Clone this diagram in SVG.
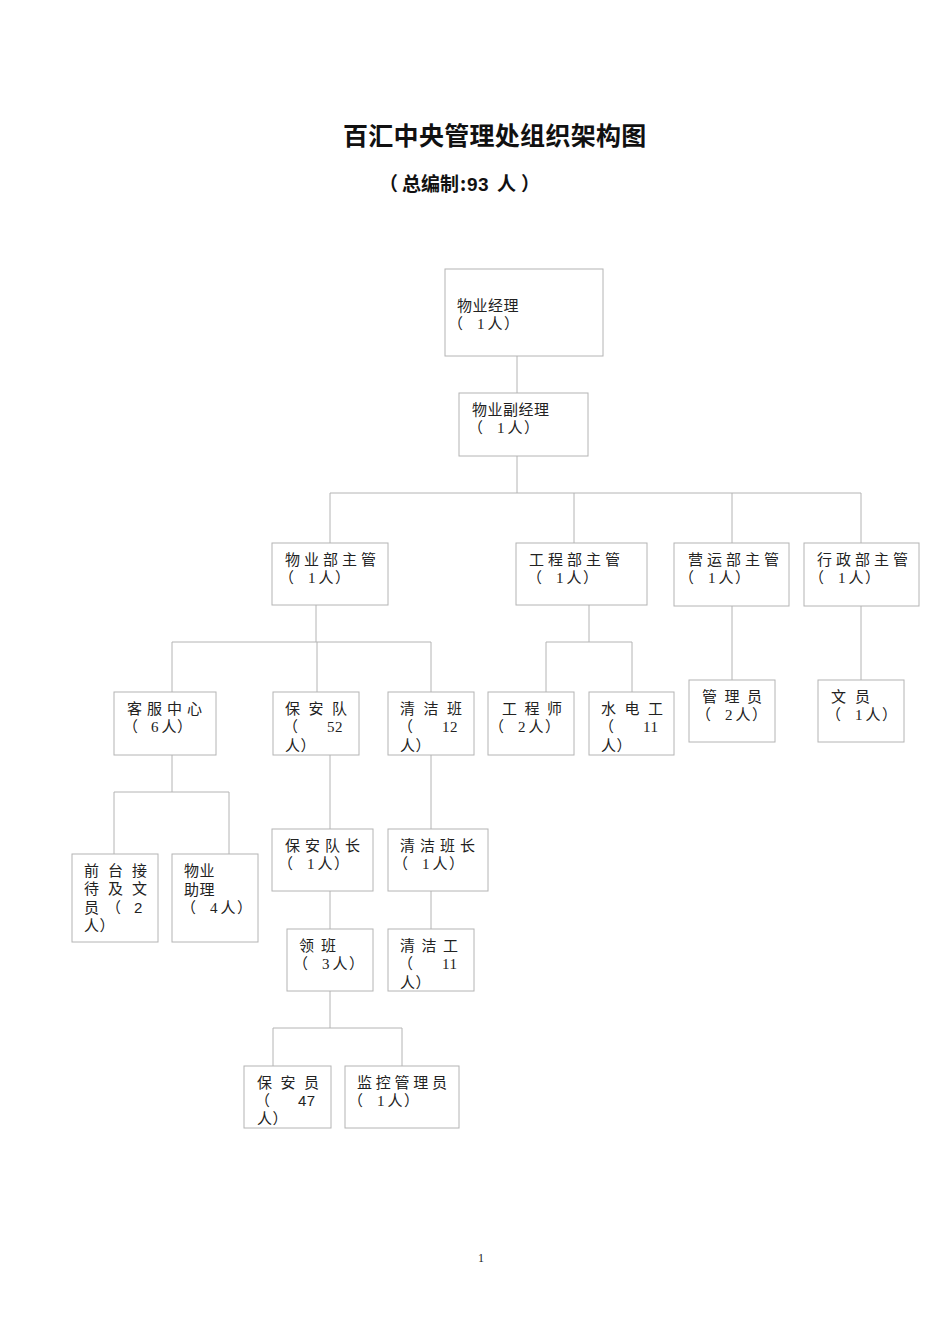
<svg xmlns="http://www.w3.org/2000/svg" width="950" height="1344" viewBox="0 0 950 1344">
<style>
.box{fill:#fff;stroke:#b4b4b4;stroke-width:1}
.ln{fill:none;stroke:#b4b4b4;stroke-width:1}
.t{font-family:"Noto Sans CJK SC","Liberation Serif",sans-serif;font-size:15px;fill:#222;letter-spacing:0.5px}
.d{font-family:"Liberation Serif",serif}
.title{font-family:"Noto Sans CJK SC",sans-serif;font-size:25px;font-weight:bold;fill:#111}
.sub{font-family:"Noto Sans CJK SC","Liberation Sans",sans-serif;font-size:19px;font-weight:bold;fill:#111}
</style>
<rect width="950" height="1344" fill="#fff"/>
<text class="title" x="343" y="145" style="letter-spacing:0.3px">百汇中央管理处组织架构图</text>
<text class="sub" x="379 402 421 440 460 467 478 489 497 521" y="191">（总编制:<tspan style="font-family:'Liberation Sans',sans-serif">93</tspan> 人）</text>

<g id="connectors">
<path class="ln" d="M517,356V393 M517,456V493 M330,493H861 M330,493V543 M574,493V543 M732,493V543 M861,493V543"/>
<path class="ln" d="M316,605V642 M172,642H431 M172,642V692 M317,642V692 M431,642V692"/>
<path class="ln" d="M589,605V642 M546,642H632 M546,642V692 M632,642V692"/>
<path class="ln" d="M732,606V680 M861,606V680"/>
<path class="ln" d="M172,755V792 M114,792H229 M114,792V854 M229,792V854"/>
<path class="ln" d="M330,755V829 M330,891V929 M330,991V1028 M273,1028H402 M273,1028V1066 M402,1028V1066"/>
<path class="ln" d="M431,755V829 M431,891V929"/>
</g>

<g id="n1"><rect class="box" x="445" y="269" width="158" height="87"/>
<text class="t" x="457" y="311">物业经理</text><text class="t" x="448 477 487.5 504" y="329">（<tspan class="d">1</tspan>人）</text></g>
<g id="n2"><rect class="box" x="459" y="393" width="129" height="63"/>
<text class="t" x="472" y="415">物业副经理</text><text class="t" x="468 497 507.5 524" y="433">（<tspan class="d">1</tspan>人）</text></g>

<g id="n3"><rect class="box" x="272" y="543" width="116" height="62"/>
<text class="t" x="285" y="565" style="letter-spacing:4px">物业部主管</text><text class="t" x="279 308 318.5 335" y="583">（<tspan class="d">1</tspan>人）</text></g>
<g id="n4"><rect class="box" x="516" y="543" width="131" height="62"/>
<text class="t" x="529" y="565" style="letter-spacing:4px">工程部主管</text><text class="t" x="527 556 566.5 583" y="583">（<tspan class="d">1</tspan>人）</text></g>
<g id="n5"><rect class="box" x="674" y="543" width="115" height="63"/>
<text class="t" x="688" y="565" style="letter-spacing:4px">营运部主管</text><text class="t" x="679 708 718.5 735" y="583">（<tspan class="d">1</tspan>人）</text></g>
<g id="n6"><rect class="box" x="804" y="543" width="115" height="63"/>
<text class="t" x="817" y="565" style="letter-spacing:4px">行政部主管</text><text class="t" x="809 838 848.5 865" y="583">（<tspan class="d">1</tspan>人）</text></g>

<g id="n7"><rect class="box" x="114" y="692" width="102" height="63"/>
<text class="t" x="127" y="714" style="letter-spacing:5px">客服中心</text><text class="t" x="123 151 161.5 177" y="732">（<tspan class="d">6</tspan>人）</text></g>
<g id="n8"><rect class="box" x="273" y="692" width="86" height="63"/>
<text class="t" x="285" y="714" style="letter-spacing:8.5px">保安队</text>
<text class="t" x="283" y="732">（</text><text class="t d" x="327" y="732">52</text>
<text class="t" x="285" y="751">人）</text></g>
<g id="n9"><rect class="box" x="388" y="692" width="86" height="63"/>
<text class="t" x="400" y="714" style="letter-spacing:8.5px">清洁班</text>
<text class="t" x="398" y="732">（</text><text class="t d" x="442" y="732">12</text>
<text class="t" x="400" y="751">人）</text></g>
<g id="n10"><rect class="box" x="488" y="692" width="86" height="63"/>
<text class="t" x="502" y="714" style="letter-spacing:7.5px">工程师</text><text class="t" x="489 518 528.5 545" y="732">（<tspan class="d">2</tspan>人）</text></g>
<g id="n11"><rect class="box" x="589" y="692" width="85" height="63"/>
<text class="t" x="601" y="714" style="letter-spacing:8.5px">水电工</text>
<text class="t" x="599" y="732">（</text><text class="t d" x="643" y="732">11</text>
<text class="t" x="601" y="751">人）</text></g>
<g id="n12"><rect class="box" x="689" y="680" width="86" height="62"/>
<text class="t" x="702" y="702" style="letter-spacing:7.5px">管理员</text><text class="t" x="696 725 735.5 752" y="720">（<tspan class="d">2</tspan>人）</text></g>
<g id="n13"><rect class="box" x="818" y="680" width="86" height="62"/>
<text class="t" x="831" y="702" style="letter-spacing:9px">文员</text><text class="t" x="826 855 865.5 882" y="720">（<tspan class="d">1</tspan>人）</text></g>

<g id="n14"><rect class="box" x="72" y="854" width="86" height="88"/>
<text class="t" x="84" y="876" style="letter-spacing:9px">前台接</text>
<text class="t" x="84" y="894" style="letter-spacing:9px">待及文</text>
<text class="t" x="84" y="913">员</text><text class="t" x="106" y="913">（</text><text class="t" x="134" y="913" style="font-family:'Liberation Sans',sans-serif">2</text>
<text class="t" x="84" y="931">人）</text></g>
<g id="n15"><rect class="box" x="172" y="854" width="86" height="88"/>
<text class="t" x="184" y="876">物业</text><text class="t" x="184" y="895">助理</text><text class="t" x="181 210 220.5 237" y="913">（<tspan class="d">4</tspan>人）</text></g>

<g id="n16"><rect class="box" x="272" y="829" width="101" height="62"/>
<text class="t" x="285" y="851" style="letter-spacing:5px">保安队长</text><text class="t" x="278 307 317.5 334" y="869">（<tspan class="d">1</tspan>人）</text></g>
<g id="n17"><rect class="box" x="388" y="829" width="100" height="62"/>
<text class="t" x="400" y="851" style="letter-spacing:5px">清洁班长</text><text class="t" x="393 422 432.5 449" y="869">（<tspan class="d">1</tspan>人）</text></g>
<g id="n18"><rect class="box" x="287" y="929" width="86" height="62"/>
<text class="t" x="299" y="951" style="letter-spacing:7px">领班</text><text class="t" x="293 322 332.5 349" y="969">（<tspan class="d">3</tspan>人）</text></g>
<g id="n19"><rect class="box" x="388" y="929" width="86" height="62"/>
<text class="t" x="400" y="951" style="letter-spacing:6.5px">清洁工</text>
<text class="t" x="398" y="969">（</text><text class="t d" x="442" y="969">11</text>
<text class="t" x="400" y="988">人）</text></g>

<g id="n20"><rect class="box" x="244" y="1066" width="87" height="62"/>
<text class="t" x="257" y="1088" style="letter-spacing:8.5px">保安员</text>
<text class="t" x="255" y="1106">（</text><text class="t" x="298" y="1106" style="font-family:'Liberation Sans',sans-serif">47</text>
<text class="t" x="257" y="1124">人）</text></g>
<g id="n21"><rect class="box" x="345" y="1066" width="114" height="62"/>
<text class="t" x="357" y="1088" style="letter-spacing:3.75px">监控管理员</text><text class="t" x="348 377 387.5 404" y="1106">（<tspan class="d">1</tspan>人）</text></g>

<text x="481" y="1262" style="font-family:'Liberation Serif',serif;font-size:12px;fill:#222" text-anchor="middle">1</text>
</svg>
